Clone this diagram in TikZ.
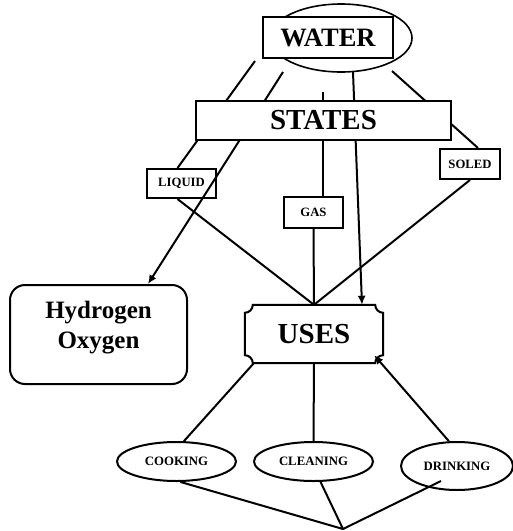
\documentclass[tikz,border=0pt]{standalone}
\usepackage{fontspec}
\setmainfont{Liberation Serif}
\usetikzlibrary{arrows.meta,calc,shapes.geometric}
\begin{document}
\begin{tikzpicture}[x=1pt,y=-1pt,
  box/.style={draw,line width=2pt,rectangle,inner sep=0pt,font=\bfseries},
  ell/.style={draw,line width=2pt,ellipse,inner sep=0pt,font=\bfseries\fontsize{12.8}{14}\selectfont},
  conn/.style={line width=2pt},
  arr/.style={line width=2pt,-{Latex[length=9pt,width=8pt]}},
  big/.style={font=\bfseries\fontsize{29}{33}\selectfont},
  small/.style={font=\bfseries\fontsize{12.7}{14}\selectfont}]
\useasboundingbox (0,0) rectangle (513,531);
% water
\node[draw,line width=1.6pt,ellipse,minimum width=142pt,minimum height=68pt] (waterell) at (341,38) {};
\node[box,fill=white,minimum width=130pt,minimum height=41pt,font=\bfseries\fontsize{26.5}{30}\selectfont] (water) at (328,37.5) {WATER};
% nodes
\node[box,small,minimum width=69pt,minimum height=29pt] (liquid) at (181.5,183.5) {LIQUID};
\node[box,small,minimum width=59pt,minimum height=31pt] (gas) at (313.5,212.5) {GAS};
\node[box,small,minimum width=60pt,minimum height=30pt] (soled) at (470,164) {SOLED};
\node[box,rounded corners=15pt,minimum width=177pt,minimum height=99pt,font=\bfseries\fontsize{25}{30}\selectfont] (hydro) at (98.5,334.5) {\raisebox{1pt}[0pt][0pt]{\begin{tabular}{@{}c@{}}Hydrogen\\Oxygen\end{tabular}}};
\node[inner sep=0pt,minimum width=138pt,minimum height=58pt,big] (uses) at (314,334) {USES};
\node[ell,minimum width=119pt,minimum height=39pt] (cooking) at (176.5,461.5) {COOKING};
\node[ell,minimum width=119pt,minimum height=39pt] (cleaning) at (313.5,461.5) {CLEANING};
\node[ell,minimum width=112pt,minimum height=48pt] (drinking) at (457,466) {DRINKING};
% free ends
\coordinate (w1) at (255,61);
\coordinate (w2) at (283,72);
\coordinate (w3) at (323,92);
\coordinate (w4) at (353,72);
\coordinate (w5) at (392,71);
\coordinate (bot) at (343,529);
% plaque outline for USES
\draw[conn] ($(uses.north west)+(8,0)$) -- ($(uses.north east)+(-8,0)$)
  arc[start angle=180,end angle=270,radius=8pt]
  -- ($(uses.south east)+(0,-8)$)
  arc[start angle=90,end angle=180,radius=8pt]
  -- ($(uses.south west)+(8,0)$)
  arc[start angle=0,end angle=90,radius=8pt]
  -- ($(uses.north west)+(0,8)$)
  arc[start angle=270,end angle=360,radius=8pt] -- cycle;
% lines from water (behind STATES)
\draw[conn] (w1) -- ($(liquid.north)+(-4,0)$);
\draw[arr] (w2) -- ($(hydro.north east)+(-40,0)$);
\draw[conn] (w3) -- ($(gas.north)+(9.5,0)$);
\draw[arr] (w4) -- ($(uses.north)+(48,0)$);
\draw[conn] (w5) -- ($(soled.north)+(8,0)$);
% states on top
\node[box,big,fill=white,minimum width=255pt,minimum height=39pt] (states) at (323.5,120.5) {STATES};
% states to uses
\draw[conn] ($(liquid.south)+(-4,0)$) -- (uses.north);
\draw[conn] (gas.south) -- (uses.north);
\draw[conn] (soled.south) -- (uses.north);
% uses to activities
\draw[conn] ($(uses.south west)+(9,0)$) -- (cooking.70);
\draw[conn] (uses.south) -- (cleaning.north);
\draw[arr] (drinking.108) -- ($(uses.south east)+(-9,-8)$);
% bottom
\draw[conn] (cooking.-79) -- (bot);
\draw[conn] (cleaning.-71) -- (bot);
\draw[conn] ($(drinking.center)+(-16,15)$) -- (bot);
\end{tikzpicture}
\end{document}
